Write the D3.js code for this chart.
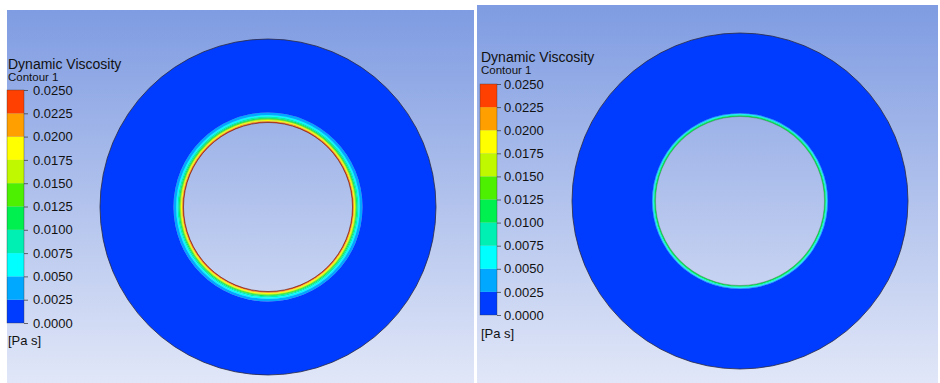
<!DOCTYPE html>
<html>
<head>
<meta charset="utf-8">
<script src="https://cdn.jsdelivr.net/npm/d3@7"></script>
<style>
  html, body { margin: 0; padding: 0; background: #ffffff; }
  svg { display: block; }
  text { font-family: "Liberation Sans", Arial, sans-serif; fill: #111; }
</style>
</head>
<body>
<svg id="chart" width="940" height="383"></svg>
<script>
// Contour legend: band boundaries [Pa s] and band colours (low to high)
const legendTicks = [0.0000, 0.0025, 0.0050, 0.0075, 0.0100, 0.0125, 0.0150, 0.0175, 0.0200, 0.0225, 0.0250];
const bandColors = ["#003cff", "#00a8ff", "#00ffff", "#00f0b4", "#00f050", "#4cf000", "#c0f800", "#ffff00", "#ffa000", "#ff4000"];

// Annulus geometry [mm]
const outerRadius = 50;
const innerRadius = 25.15;
const bulkViscosity = 0.0010;

// Case A: shells near the inner wall (outer edge of each shell [mm], viscosity [Pa s])
const shellRadiusA = [25.42, 25.62, 25.92, 26.12, 26.32, 26.58, 26.92, 27.35, 28.12];
const shellViscA   = [0.0240, 0.0212, 0.0188, 0.0162, 0.0138, 0.0112, 0.0088, 0.0062, 0.0038];

// Case B: shells near the inner wall
const shellRadiusB = [25.55, 25.75, 25.95, 26.15];
const shellViscB   = [0.0112, 0.0088, 0.0062, 0.0038];

const svg = d3.select("#chart");
const defs = svg.append("defs");

const grad = defs.append("linearGradient")
  .attr("id", "bg").attr("x1", 0).attr("y1", 0).attr("x2", 0).attr("y2", 1);
grad.append("stop").attr("offset", "0%").attr("stop-color", "#7f9ce2");
grad.append("stop").attr("offset", "50%").attr("stop-color", "#b0c1ec");
grad.append("stop").attr("offset", "100%").attr("stop-color", "#e1e7f8");

const color = d3.scaleThreshold()
  .domain(legendTicks.slice(1, -1))
  .range(bandColors);

const panels = [
  { x: 7, y: 10, w: 467, h: 373, cx: 268, cy: 207, R: 168,
    legend: { x: 7, top: 90, bottom: 323, titleY: 69, subY: 81, unitY: 345, labelX: 33 },
    radii: shellRadiusA, visc: shellViscA, wallColor: "#6a2a18", wallOpacity: 0.85 },
  { x: 477, y: 5, w: 461, h: 378, cx: 740, cy: 201, R: 168,
    legend: { x: 480, top: 84, bottom: 315, titleY: 62, subY: 74, unitY: 338, labelX: 504 },
    radii: shellRadiusB, visc: shellViscB, wallColor: "#405048", wallOpacity: 0.45 }
];

panels.forEach(p => {
  const g = svg.append("g");
  g.append("rect")
    .attr("x", p.x).attr("y", p.y).attr("width", p.w).attr("height", p.h)
    .attr("fill", "url(#bg)");

  const rScale = d3.scaleLinear().domain([0, outerRadius]).range([0, p.R]);
  const arc = d3.arc().startAngle(0).endAngle(2 * Math.PI);

  // Shells ordered outward; bulk region spans from last shell to the outer wall
  const shells = [];
  let r0 = innerRadius;
  p.radii.forEach((r1, k) => {
    shells.push({ r0: r0, r1: r1, v: p.visc[k] });
    r0 = r1;
  });
  shells.push({ r0: r0, r1: outerRadius, v: bulkViscosity });

  const field = g.append("g").attr("transform", `translate(${p.cx},${p.cy})`);
  field.selectAll("path.shell")
    .data(shells)
    .join("path")
    .attr("class", "shell")
    .attr("d", d => arc({ innerRadius: rScale(d.r0), outerRadius: rScale(d.r1) }))
    .attr("fill", d => color(d.v));

  field.append("circle").attr("r", rScale(outerRadius))
    .attr("fill", "none").attr("stroke", "#2a2a40").attr("stroke-width", 1).attr("stroke-opacity", 0.8);
  field.append("circle").attr("r", rScale(innerRadius))
    .attr("fill", "none").attr("stroke", p.wallColor).attr("stroke-width", 0.8).attr("stroke-opacity", p.wallOpacity);

  // Legend
  const L = p.legend;
  const y = d3.scaleLinear().domain([0, 0.025]).range([L.bottom, L.top]);
  const leg = g.append("g");
  leg.append("text").attr("x", L.x + 1).attr("y", L.titleY)
    .attr("font-size", 14).text("Dynamic Viscosity");
  leg.append("text").attr("x", L.x + 1).attr("y", L.subY)
    .attr("font-size", 11.5).text("Contour 1");

  const bands = d3.range(bandColors.length).map(k => ({ lo: legendTicks[k], hi: legendTicks[k + 1], c: bandColors[k] }));
  leg.selectAll("rect.band")
    .data(bands)
    .join("rect")
    .attr("class", "band")
    .attr("x", L.x).attr("width", 17)
    .attr("y", d => y(d.hi)).attr("height", d => y(d.lo) - y(d.hi))
    .attr("fill", d => d.c);
  leg.append("rect")
    .attr("x", L.x).attr("y", L.top).attr("width", 17).attr("height", L.bottom - L.top)
    .attr("fill", "none").attr("stroke", "#333").attr("stroke-width", 0.6).attr("stroke-opacity", 0.6);

  const axis = d3.axisRight(y)
    .tickValues(legendTicks)
    .tickFormat(d3.format(".4f"))
    .tickSize(4)
    .tickPadding(L.labelX - L.x - 21);
  const ax = leg.append("g")
    .attr("transform", `translate(${L.x + 17},0)`)
    .call(axis);
  ax.select(".domain").remove();
  ax.selectAll(".tick line").attr("stroke", "#333").attr("stroke-opacity", 0.7);
  ax.selectAll(".tick text")
    .attr("font-family", "'Liberation Sans', Arial, sans-serif")
    .attr("font-size", 13).attr("fill", "#111");

  leg.append("text").attr("x", L.x + 1).attr("y", L.unitY)
    .attr("font-size", 13).text("[Pa s]");
});
</script>
</body>
</html>
